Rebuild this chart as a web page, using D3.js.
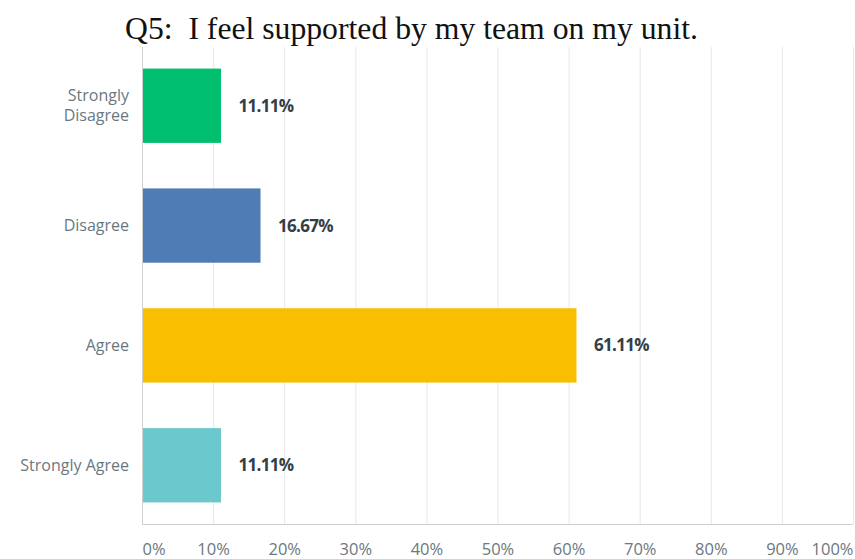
<!DOCTYPE html>
<html>
<head>
<meta charset="utf-8">
<script src="https://cdn.jsdelivr.net/npm/d3@7"></script>
<style>
  html, body { margin: 0; padding: 0; background: #fff; }
  svg { display: block; }
</style>
</head>
<body>
<svg id="chart" width="855" height="559"></svg>
<script>
// Survey responses, percent of respondents
const titleText = "Q5:  I feel supported by my team on my unit.";
const categories = [["Strongly", "Disagree"], ["Disagree"], ["Agree"], ["Strongly Agree"]];
const categoryKeys = ["Strongly Disagree", "Disagree", "Agree", "Strongly Agree"];
const values = [11.11, 16.67, 61.11, 11.11];
const colors = ["#00bf6f", "#507cb6", "#f9be00", "#6bc8cd"];
const tickValues = [0, 10, 20, 30, 40, 50, 60, 70, 80, 90, 100];

const svg = d3.select("#chart");
const plotLeft = 142, plotRight = 853, plotTop = 47, plotBottom = 524;
const sans = "'Open Sans', Lato, sans-serif";

const x = d3.scaleLinear().domain([0, 100]).range([plotLeft, plotRight]);
const y = d3.scaleBand().domain(categoryKeys).range([plotTop, plotBottom])
  .paddingInner(0.38).paddingOuter(0.18);

// title
svg.append("text")
  .attr("x", 125).attr("y", 39)
  .style("white-space", "pre")
  .attr("font-family", "'Liberation Serif', 'Times New Roman', serif")
  .attr("font-size", 31.7)
  .attr("fill", "#111")
  .text(titleText);

// vertical gridlines
svg.append("g").selectAll("line")
  .data(tickValues.slice(1))
  .join("line")
  .attr("x1", d => x(d) + 0.5).attr("x2", d => x(d) + 0.5)
  .attr("y1", plotTop).attr("y2", plotBottom)
  .attr("stroke", "#e8e8e8").attr("stroke-width", 1);

// axis lines
svg.append("line")
  .attr("x1", plotLeft + 0.5).attr("x2", plotLeft + 0.5)
  .attr("y1", plotTop).attr("y2", plotBottom)
  .attr("stroke", "#d0d0d0");
svg.append("line")
  .attr("x1", plotLeft).attr("x2", plotRight)
  .attr("y1", plotBottom + 0.5).attr("y2", plotBottom + 0.5)
  .attr("stroke", "#d0d0d0");

// bottom axis tick labels
const xAxis = d3.axisBottom(x).tickValues(tickValues).tickSize(0).tickPadding(0)
  .tickFormat(d => d + "%");
const ax = svg.append("g").attr("transform", `translate(0,${plotBottom})`).call(xAxis);
ax.select(".domain").remove();
ax.selectAll("text")
  .attr("y", 31)
  .attr("dy", 0)
  .attr("font-family", sans)
  .attr("font-size", 16.5)
  .attr("fill", "#6b787f")
  .attr("text-anchor", d => d === 0 ? "start" : d === 100 ? "end" : "middle");

// bars
svg.append("g").selectAll("rect")
  .data(values)
  .join("rect")
  .attr("x", plotLeft + 1)
  .attr("y", (d, i) => y(categoryKeys[i]))
  .attr("width", d => x(d) - plotLeft - 1)
  .attr("height", y.bandwidth())
  .attr("fill", (d, i) => colors[i]);

// value labels
svg.append("g").selectAll("text")
  .data(values)
  .join("text")
  .attr("x", d => x(d) + 17.5)
  .attr("y", (d, i) => y(categoryKeys[i]) + y.bandwidth() / 2)
  .attr("dy", "0.35em")
  .attr("font-family", sans)
  .attr("font-weight", "bold")
  .attr("font-size", 17)
  .attr("letter-spacing", -0.7)
  .attr("fill", "#333e48")
  .text(d => d.toFixed(2) + "%");

// category labels
const catG = svg.append("g");
categories.forEach((lines, i) => {
  const cy = y(categoryKeys[i]) + y.bandwidth() / 2;
  const t = catG.append("text")
    .attr("x", 129)
    .attr("text-anchor", "end")
    .attr("font-family", sans)
    .attr("font-size", 16)
    .attr("fill", "#6b787f");
  const lh = 20;
  lines.forEach((ln, j) => {
    t.append("tspan")
      .attr("x", 129)
      .attr("y", cy + (j - (lines.length - 1) / 2) * lh)
      .attr("dy", "0.35em")
      .text(ln);
  });
});
</script>
</body>
</html>
